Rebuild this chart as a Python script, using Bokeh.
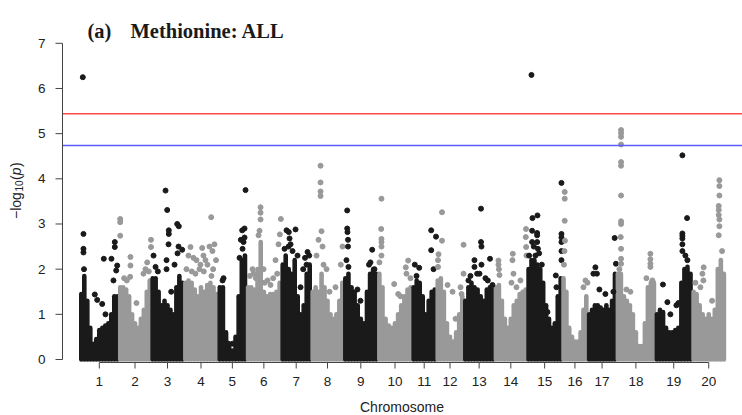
import numpy as np
from bokeh.plotting import figure
from bokeh.models import ColumnDataSource, Range1d
from bokeh.core.properties import value
from bokeh.embed import file_html
from bokeh.resources import INLINE

# ---------------- data ----------------
chromosomes = [str(i) for i in range(1, 21)]
chrom_len_mb = [58.5, 48.6, 48.9, 51.6, 42.5, 52.0, 45.0, 48.9, 51.0, 51.6,
                36.0, 41.4, 46.0, 49.0, 52.5, 38.4, 43.0, 58.5, 55.0, 50.0]
y_ticks = [0, 1, 2, 3, 4, 5, 6, 7]

# upper edge of the dense SNP cloud, evenly spaced along each chromosome (-log10 p)
env_1 = [1.45, 1.85, 1.3, 0.7, 0.35, 0.45, 0.65, 0.7, 0.75, 0.8, 1.0, 1.4, 1.4]
env_2 = [1.6, 1.6, 1.55, 1.4, 1.0, 0.8, 0.7, 0.9, 1.1, 1.5, 1.75]
env_3 = [1.8, 1.8, 1.5, 1.2, 1.3, 1.2, 1.1, 1.0, 1.6, 1.85, 1.7]
env_4 = [1.7, 1.75, 1.7, 1.55, 1.4, 1.6, 1.5, 1.65, 1.7, 1.6, 1.45]
env_5 = [1.6, 1.6, 0.6, 0.3, 0.2, 0.5, 1.4, 2.2, 2.3]
env_6 = [1.6, 1.6, 1.55, 2.0, 2.6, 1.5, 1.4, 1.45, 1.45, 1.5, 1.7]
env_7 = [2.1, 2.3, 2.0, 1.9, 2.2, 1.4, 1.0, 1.2, 1.9, 2.1]
env_8 = [1.5, 1.6, 1.5, 1.9, 1.6, 1.3, 1.0, 0.9, 1.0, 1.3, 1.7]
env_9 = [1.8, 1.9, 1.6, 1.5, 1.2, 0.9, 0.8, 1.5, 1.9, 2.0, 1.9]
env_10 = [1.9, 1.6, 0.9, 0.75, 0.7, 0.8, 1.0, 1.2, 1.4, 1.55, 1.6]
env_11 = [1.6, 1.75, 1.7, 1.4, 1.0, 1.3, 1.5, 1.55]
env_12 = [1.75, 1.8, 1.5, 0.8, 0.5, 0.4, 0.6, 1.0, 1.4]
env_13 = [1.3, 1.6, 1.7, 1.6, 1.55, 1.4, 1.3, 1.55, 1.6, 1.55]
env_14 = [1.6, 1.65, 1.3, 0.9, 0.7, 0.9, 1.2, 1.3, 1.45, 1.5, 1.55]
env_15 = [2.0, 2.2, 2.2, 2.1, 2.0, 1.7, 1.2, 0.9, 0.7, 0.8, 1.4, 1.8]
env_16 = [1.8, 1.5, 0.7, 0.5, 0.4, 0.4, 0.6, 1.1, 1.4]
env_17 = [1.0, 1.1, 1.2, 1.2, 1.15, 1.1, 1.2, 1.1, 1.3, 1.9]
env_18 = [1.9, 1.9, 1.4, 1.3, 1.2, 1.0, 0.6, 0.3, 0.3, 0.8, 1.6, 1.7, 1.7]
env_19 = [1.0, 1.1, 1.05, 0.7, 0.6, 0.6, 0.65, 0.7, 1.7, 2.0, 2.05, 1.9]
env_20 = [1.5, 1.45, 1.2, 1.0, 0.9, 1.0, 0.9, 1.1, 2.0, 2.2, 1.9]

# individual SNPs above the cloud: (position in Mb within chromosome, -log10 p)
pk_1 = [(4.5, 6.25), (5.5, 2.78), (5.5, 2.45), (5.5, 2.37), (6.3, 2.0), (22.5, 1.44), (26.1, 1.32),
        (33.6, 1.23), (36.0, 2.23), (47.5, 2.23), (52.5, 2.6), (52.5, 2.49), (56.1, 2.08),
        (54.6, 1.97), (50.5, 1.75), (38.5, 1.0)]
pk_2 = [(2.1, 3.11), (2.1, 3.04), (2.1, 2.74), (17.5, 2.27), (17.5, 2.08), (17.0, 1.83), (26.5, 1.25),
        (48.3, 2.65), (48.3, 2.49), (42.6, 2.15), (40.0, 2.0), (37.0, 1.9), (8, 1.8), (12, 1.75),
        (45, 1.95)]
pk_3 = [(21.5, 3.74), (24.0, 3.31), (26.4, 2.86), (26.4, 2.78), (26.0, 2.55), (23.0, 2.2), (23.0, 2.0),
        (39.0, 3.0), (41.4, 2.95), (41.0, 2.5), (46.5, 2.43), (39.5, 2.35), (35.0, 2.1), (3.5, 2.3),
        (6.5, 2.05), (10, 1.95), (30, 1.5)]
pk_4 = [(10, 2.49), (7, 2.3), (14.5, 2.25), (19, 2.2), (23.5, 2.0), (27.6, 2.47), (29.5, 2.3),
        (32.5, 2.2), (35.5, 2.1), (38.5, 2.5), (41.1, 3.15), (43, 2.4), (46, 2.55), (48.3, 2.2),
        (4, 2.0), (17.5, 1.9), (41.5, 1.85), (12, 1.95), (25, 2.1), (30, 1.95), (44, 2.0)]
pk_5 = [(6.5, 1.75), (8, 1.8), (15.5, 0.35), (21.5, 0.35), (36, 2.86), (34, 2.65), (38, 2.6),
        (41, 3.75), (39.5, 2.9), (36.5, 2.45), (32, 2.25), (39.5, 2.7)]
pk_6 = [(21, 3.37), (21, 3.25), (21, 3.1), (19.5, 2.85), (18, 2.75), (10.5, 1.9), (9, 2.0),
        (25.5, 2.0), (31.5, 1.75), (36, 1.65), (43.5, 2.2), (50, 2.77), (51.5, 3.11), (48, 2.55),
        (5, 1.85), (14, 1.8), (27, 1.7), (40, 1.8), (46, 1.9)]
pk_7 = [(11.4, 2.82), (8, 2.86), (21.5, 2.88), (12.5, 2.68), (14, 2.55), (11, 2.5), (24.5, 2.3),
        (39.5, 2.38), (35.7, 2.25), (38, 2.1), (29, 1.6), (5, 2.45), (17, 2.4), (33, 2.0), (42, 2.3)]
pk_8 = [(14, 4.29), (14, 3.92), (14, 3.72), (14, 3.62), (15.5, 2.84), (11, 2.65), (17, 2.5), (8, 2.3),
        (18.5, 2.1), (23, 2.0), (27.5, 1.5), (47, 2.5), (44.4, 2.1), (36.5, 1.6)]
pk_9 = [(5.1, 3.3), (5.1, 2.9), (5.5, 2.82), (6.3, 2.65), (6.3, 2.5), (4, 2.2), (7, 2.05),
        (20.5, 1.55), (25, 1.3), (42.6, 2.43), (40, 2.15), (37.8, 2.1), (46, 2.0)]
pk_10 = [(5.5, 3.56), (5.1, 2.89), (5.5, 2.67), (5.5, 2.6), (5.5, 2.5), (5.5, 2.3), (2.5, 2.15),
         (24.6, 1.67), (30.6, 1.45), (34, 1.4), (42, 2.04), (45.6, 2.19), (43, 1.9), (49, 1.8)]
pk_11 = [(3.9, 2.1), (10.5, 2.03), (6.5, 1.85), (28.5, 2.86), (28.5, 2.42), (35.7, 2.72), (32, 2.0)]
pk_12 = [(8.7, 3.26), (8.7, 2.63), (3.5, 2.33), (2.7, 2.2), (2.7, 2.05), (17, 1.65), (24.5, 1.5),
         (29, 0.9), (41, 2.54), (41, 1.9), (36.5, 1.6), (38, 1.45)]
pk_13 = [(25.8, 3.34), (25.8, 2.6), (26.5, 2.5), (26.5, 2.1), (23.5, 1.9), (16, 2.2), (16, 2.05),
         (39.3, 2.23), (43, 1.65), (7, 1.75), (32.5, 1.8), (10, 1.85), (20, 1.9), (36, 1.75)]
pk_14 = [(6, 2.19), (6, 2.1), (6.7, 2.0), (7.5, 1.87), (27.5, 2.34), (27, 2.2), (28.5, 1.9),
         (25.5, 1.7), (33, 1.6), (47.3, 2.89), (47, 2.71), (47.5, 2.49), (48, 2.3), (39, 1.75)]
pk_15 = [(6.5, 6.3), (8, 3.13), (15.5, 3.19), (7.5, 2.85), (15, 2.8), (15, 2.75), (7.5, 2.6), (15, 2.6),
         (16.2, 2.45), (12.5, 2.3), (43, 1.86), (44, 1.6), (51.5, 3.91), (51.5, 2.78), (51.5, 2.7),
         (51.5, 2.6), (51.5, 2.4), (51.5, 2.2), (30.5, 1.05), (3, 2.3), (10, 2.5), (18, 2.35),
         (22, 2.1)]
pk_16 = [(3.9, 3.71), (3.9, 3.56), (3.9, 3.07), (4.2, 2.63), (3.5, 2.4), (2.7, 2.1), (32, 1.6),
         (35, 1.75), (38, 1.7)]
pk_17 = [(11.5, 2.04), (13.8, 1.9), (8.5, 1.9), (17.5, 1.55), (26.5, 1.45), (40.4, 2.69),
         (42.3, 2.12), (38.5, 1.5)]
pk_18 = [(7, 5.08), (7, 5.01), (7, 4.93), (7, 4.76), (7, 4.37), (7, 4.29), (7, 3.63), (7, 3.06),
         (7, 3.0), (6.5, 2.71), (7, 2.45), (7, 2.23), (7, 2.12), (4.5, 2.0), (51, 2.34), (51, 2.22),
         (51, 2.12), (51, 2.05), (45, 1.8), (54, 1.75), (21, 1.5), (15, 1.55)]
pk_19 = [(40.5, 4.52), (47.5, 3.13), (40.5, 2.79), (40.5, 2.74), (40.5, 2.68), (40.5, 2.55),
         (40.5, 2.4), (45, 2.3), (48, 2.2), (11.3, 1.66), (18, 1.27), (22.5, 1.0), (31.5, 1.2),
         (34.5, 1.25)]
pk_20 = [(41, 3.97), (41, 3.84), (41, 3.63), (40, 3.4), (40, 3.31), (40, 3.2), (41, 3.1), (41, 2.95),
         (40, 2.75), (17.4, 2.04), (15.5, 1.9), (17, 1.75), (12.5, 1.6), (5, 1.7), (30, 1.3),
         (45, 2.4)]

genomewide_line = 5.44
suggestive_line = 4.74

envelopes = [env_1, env_2, env_3, env_4, env_5, env_6, env_7, env_8, env_9, env_10,
             env_11, env_12, env_13, env_14, env_15, env_16, env_17, env_18, env_19, env_20]
peaks = [pk_1, pk_2, pk_3, pk_4, pk_5, pk_6, pk_7, pk_8, pk_9, pk_10,
         pk_11, pk_12, pk_13, pk_14, pk_15, pk_16, pk_17, pk_18, pk_19, pk_20]

# ---------------- layout helpers (page pixel -> data units, decorations only) ----------------
MB_PER_PX = 1.5
PX_PER_UNIT = 45.17
X0_PX, Y0_PX = 79.3, 359.0


def X(px):
    return (px - X0_PX) * MB_PER_PX


def Y(py):
    return (Y0_PX - py) / PX_PER_UNIT


# ---------------- build sources ----------------
DARK, LIGHT = "#1a1a1a", "#999999"
lens = np.array(chrom_len_mb)
offsets = np.concatenate([[0.0], np.cumsum(lens)[:-1]])
centers = offsets + lens / 2

seg = dict(x=[], y0=[], y1=[], color=[])
pts = dict(x=[], y=[], color=[])
for k in range(len(chromosomes)):
    col = DARK if k % 2 == 0 else LIGHT
    h = envelopes[k]
    step = lens[k] / len(h)
    for i, v in enumerate(h):
        seg["x"].append(offsets[k] + (i + 0.5) * step)
        seg["y0"].append(0.0)
        seg["y1"].append(v)
        seg["color"].append(col)
    for pos, v in peaks[k]:
        pts["x"].append(offsets[k] + pos)
        pts["y"].append(v)
        pts["color"].append(col)

# ---------------- figure (frame covers the whole page) ----------------
p = figure(width=742, height=415, output_backend="svg", toolbar_location=None,
           x_range=Range1d(X(0), X(742)), y_range=Range1d(Y(415), Y(0)),
           x_axis_location=None, y_axis_location=None,
           min_border=0, min_border_left=0, min_border_right=0, min_border_top=0, min_border_bottom=0)
p.outline_line_color = None
p.xgrid.visible = False
p.ygrid.visible = False
p.background_fill_color = "white"
p.border_fill_color = "white"

# SNP clouds and individual SNPs
p.segment(x0="x", y0="y0", x1="x", y1="y1", source=ColumnDataSource(seg),
          line_color="color", line_width=4.6, line_cap="round")
p.scatter(x="x", y="y", source=ColumnDataSource(pts), size=5,
          fill_color="color", line_color="color")

# threshold lines
p.segment(x0=[X(62), X(62)], y0=[genomewide_line, suggestive_line],
          x1=[X(742), X(742)], y1=[genomewide_line, suggestive_line],
          line_color=["#ff4848", "#5c5cff"], line_width=1.5)

AX = "#444444"
FONT = value("Liberation Sans")
TXT = "#222222"

# y axis
p.segment(x0=[X(62)], y0=[y_ticks[0]], x1=[X(62)], y1=[y_ticks[-1]], line_color=AX, line_width=1)
p.segment(x0=[X(55)] * len(y_ticks), y0=y_ticks, x1=[X(62)] * len(y_ticks), y1=y_ticks,
          line_color=AX, line_width=1)
p.text(x=[X(45)] * len(y_ticks), y=y_ticks, text=[str(t) for t in y_ticks],
       text_align="right", text_baseline="middle", text_font=FONT,
       text_font_size=value("13.5px"), text_color=TXT)

# x axis
xl = Y(362)
p.segment(x0=[centers[0]], y0=[xl], x1=[centers[-1]], y1=[xl], line_color=AX, line_width=1)
p.segment(x0=list(centers), y0=[xl] * len(centers), x1=list(centers), y1=[Y(368)] * len(centers),
          line_color=AX, line_width=1)
p.text(x=list(centers), y=[Y(376)] * len(centers), text=chromosomes,
       text_align="center", text_baseline="top", text_font=FONT,
       text_font_size=value("13.5px"), text_color=TXT)

# axis titles
p.text(x=[X(401.5)], y=[Y(406)], text=["Chromosome"], text_align="center", text_baseline="middle",
       text_font=FONT, text_font_size=value("14px"), text_color=TXT)

ylab = [("\u2212log", 15.0, 218.5, "14px", "normal"),
        ("10", 18.5, 191.0, "10px", "normal"),
        ("(", 15.0, 179.5, "14px", "normal"),
        ("p", 15.0, 174.7, "14px", "italic"),
        (")", 15.0, 166.5, "14px", "normal")]
for txt, px, py, fs, st in ylab:
    p.text(x=[X(px)], y=[Y(py)], text=[txt], angle=np.pi / 2, text_align="left",
           text_baseline="middle", text_font=FONT, text_font_size=value(fs),
           text_font_style=st, text_color=TXT)

# chart title
TFONT = value("Liberation Serif")
p.text(x=[X(87), X(130)], y=[Y(30.7), Y(30.7)], text=["(a)", "Methionine: ALL"],
       text_align="left", text_baseline="alphabetic", text_font=TFONT,
       text_font_size=value("20.5px"), text_font_style="bold", text_color="#1a1a1a")

open("out.html", "w").write(file_html(p, INLINE))
